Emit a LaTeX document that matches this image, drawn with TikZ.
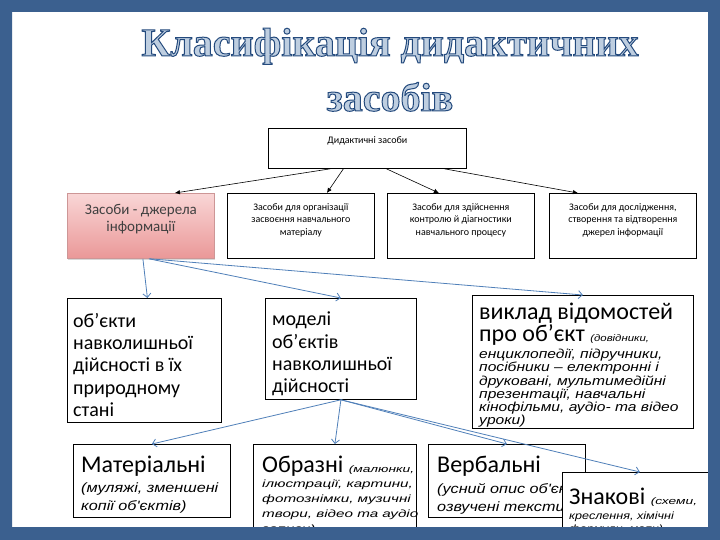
\documentclass[tikz,border=0pt]{standalone}
\usepackage{fontspec}
\setmainfont{Carlito}
\newfontfamily\notefont{Liberation Sans}[FakeStretch=1.2]
\newfontfamily\widenote{Liberation Sans}[FakeStretch=1.45]
\newfontfamily\titlefont{Liberation Serif}
\usetikzlibrary{arrows.meta,positioning,calc,shadows}
\definecolor{slide}{RGB}{59,96,143}
\definecolor{feedblue}{RGB}{80,128,185}
\definecolor{pinktop}{RGB}{249,214,214}
\definecolor{pinkbot}{RGB}{234,152,152}
\definecolor{pinkline}{RGB}{205,150,150}
\definecolor{pinktext}{RGB}{64,64,64}
\definecolor{titlefill}{RGB}{190,206,224}
\newcommand\smallnote[2][\notefont]{{#1\itshape\fontsize{9.5}{11}\selectfont #2}}
% outlined title letters: fill + stroke text rendering
\newcommand\strokedtext[1]{\special{pdf:literal direct 2 Tr 1 w 0.14 0.29 0.49 RG}#1\special{pdf:literal direct 0 Tr}}
\tikzset{
  >={Latex[length=5pt,width=4.5pt]},
  box/.style={draw=black,fill=white,line width=0.8pt,anchor=north west,inner sep=0pt},
  srcbox/.style={box,draw=pinkline,top color=pinktop,bottom color=pinkbot,
    drop shadow={opacity=0.3,shadow xshift=1pt,shadow yshift=-2pt}},
  kind/.style={font=\fontsize{10}{12.5}\selectfont,align=center,inner sep=0pt,anchor=north},
  big/.style={font=\fontsize{20}{22.3}\selectfont,align=left,inner sep=0pt,anchor=north west},
  head/.style={font=\fontsize{24}{26}\selectfont,align=left,inner sep=0pt,anchor=north west},
  note/.style 2 args={font=\notefont\itshape\fontsize{#1}{#2}\selectfont,align=left,
    inner sep=0pt,anchor=north west},
  headline/.style={font=\titlefont\bfseries\fontsize{40}{55}\selectfont,text=titlefill,
    align=center,anchor=north,inner sep=0pt},
  branch/.style={->,line width=0.6pt},
  feed/.style={-{Straight Barb[length=4pt,width=8pt]},draw=feedblue,line width=0.8pt},
}
\begin{document}
\begin{tikzpicture}[x=1pt,y=-1pt]
\useasboundingbox (0,0) rectangle (720,540);
\fill[white] (0,0) rectangle (720,540);

% title
\node[headline] (title) at (390,28) {\strokedtext{Класифікація дидактичних}\\\strokedtext{засобів}};

% root
\node[box,minimum width=198pt,minimum height=40pt] (top) at (268,128) {};
\node[kind] (top-t) at ([yshift=-8pt]top.north) {Дидактичні засоби};

% second level
\node[srcbox,minimum width=147pt,minimum height=65pt] (src) at (67,193) {};
\node[kind,text=pinktext,font=\fontsize{15}{17}\selectfont] (src-t) at ([yshift=-11.5pt]src.north) {Засоби - джерела\\інформації};
\foreach \n/\x/\t in {org/227/{Засоби для організації\\засвоєння навчального\\матеріалу},
    ctrl/387/{Засоби для здійснення\\контролю й діагностики\\навчального процесу},
    res/549/{Засоби для дослідження,\\створення та відтворення\\джерел інформації}}{
  \node[box,minimum width=147pt,minimum height=65pt] (\n) at (\x,193) {};
  \node[kind] (\n-t) at ([yshift=-10pt]\n.north) {\t};
}

% sources of information
\node[box,minimum width=154pt,minimum height=124pt] (real) at (67,298) {};
\node[big] (real-t) at ([shift={(6pt,-15pt)}]real.north west) {об’єкти\\навколишньої\\дійсності в їх\\природному\\стані};
\node[box,minimum width=151pt,minimum height=101pt] (model) at (265,298) {};
\node[big] (model-t) at ([shift={(7pt,-14pt)}]model.north west) {моделі\\об’єктів\\навколишньої\\дійсності};
\node[box,minimum width=221pt,minimum height=133pt] (info) at (472,295) {};
\node[big,font=\fontsize{24}{22}\selectfont] (info-t) at ([shift={(7pt,-8pt)}]info.north west) {виклад відомостей\\про об’єкт \smallnote{(довідники,}};
\node[note={13}{12}] (info-n) at ([shift={(7pt,-54pt)}]info.north west) {енциклопедії, підручники,\\посібники – електронні і\\друковані, мультимедійні\\презентації, навчальні\\кінофільми, аудіо- та відео\\уроки)};

% kinds of models
\node[box,minimum width=157pt,minimum height=73pt] (mat) at (73,444) {};
\node[head] (mat-t) at ([shift={(8pt,-12pt)}]mat.north west) {Матеріальні};
\node[note={13.5}{18}] (mat-n) at ([shift={(8pt,-39pt)}]mat.north west) {(муляжі, зменшені\\копії об'єктів)};
\node[box,minimum width=163pt,minimum height=100pt] (fig) at (253,444) {};
\node[head] (fig-t) at ([shift={(9pt,-12pt)}]fig.north west) {Образні \smallnote[\widenote]{(малюнки,}};
\node[note={10.5}{15},font=\widenote\itshape\fontsize{10.5}{15}\selectfont] (fig-n) at ([shift={(9pt,-36pt)}]fig.north west) {ілюстрації, картини,\\фотознімки, музичні\\твори, відео та аудіо\\записи)};
\node[box,minimum width=157pt,minimum height=73pt] (verb) at (428,444) {};
\node[head] (verb-t) at ([shift={(9pt,-12pt)}]verb.north west) {Вербальні};
\node[note={13.5}{18}] (verb-n) at ([shift={(9pt,-39pt)}]verb.north west) {(усний опис об'єкту,\\озвучені тексти)};
\node[box,minimum width=155pt,minimum height=80pt] (sign) at (562,472) {};
\node[head] (sign-t) at ([shift={(7pt,-16pt)}]sign.north west) {Знакові \smallnote[\widenote]{(схеми,}};
\node[note={10.5}{12.5}] (sign-n) at ([shift={(7pt,-40pt)}]sign.north west) {креслення, хімічні\\формули, мапи)};

% connectors
\draw[branch] ([xshift=-37pt]top.south) -- ([xshift=34pt]src.north);
\draw[branch] ([xshift=-24pt]top.south) -- ([xshift=26pt]org.north);
\draw[branch] ([xshift=19pt]top.south) -- ([xshift=-22pt]ctrl.north);
\draw[branch] ([xshift=77pt]top.south) -- ([xshift=-45pt]res.north);
\draw[feed] ([xshift=2pt]src.south) -- ([xshift=3pt]real.north);
\draw[feed] ([xshift=8pt]src.south) -- (model.north);
\draw[feed] ([xshift=9pt]src.south) -- (info.north);
\foreach \k in {mat,fig,verb,sign}
  \draw[feed] (model.south) -- (\k.north);

% slide frame
\fill[slide,even odd rule] (0,0) rectangle (720,540) (12,12) rectangle (708,527);
\end{tikzpicture}
\end{document}
